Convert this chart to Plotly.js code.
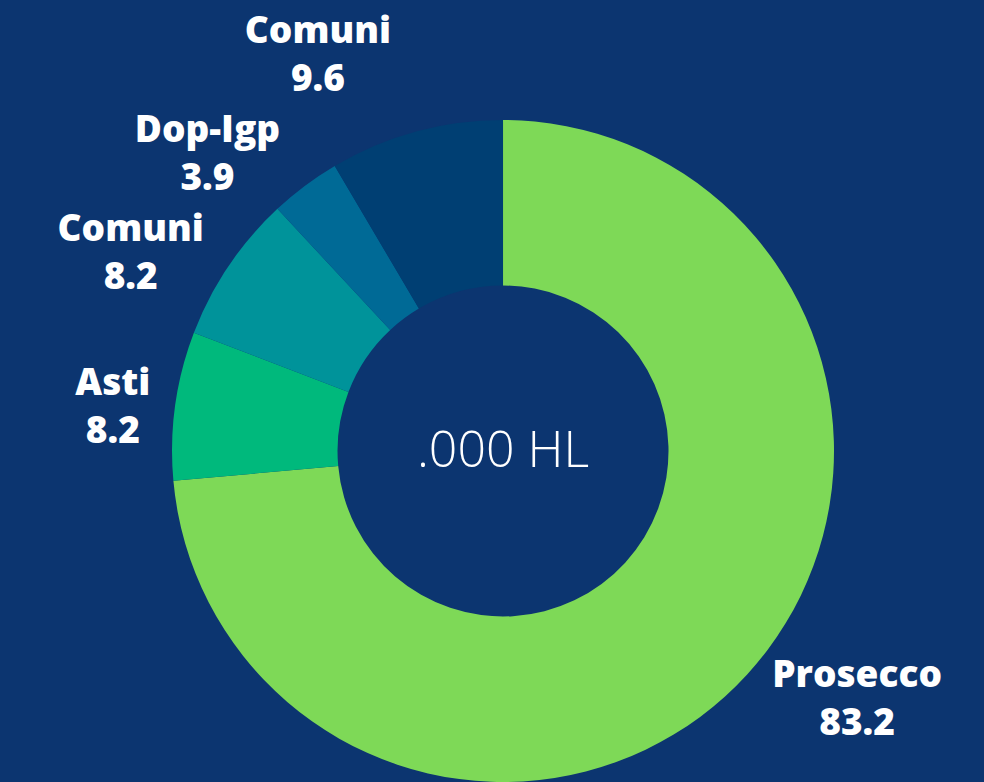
<!DOCTYPE html>
<html>
<head>
<meta charset="utf-8">
<script src="https://cdn.plot.ly/plotly-3.0.1.min.js"></script>
<style>
  html, body { margin: 0; padding: 0; background: #0c3570; }
  #chart { width: 984px; height: 782px; }
  #chart path.textline { display: none; }
</style>
</head>
<body>
<div id="chart"></div>
<script>
// Data
var categories = ['Prosecco', 'Asti', 'Comuni', 'Dop-Igp', 'Comuni'];
var values = [83.2, 8.2, 8.2, 3.9, 9.6];
var sliceColors = ['#7ed957', '#00b97c', '#00939a', '#006a96', '#003f73'];
var centerLabel = '.000 HL';

// unique keys so that the two "Comuni" slices are not merged
var keys = categories.map(function (c, i) { return 'slice' + i; });

var trace = {
  type: 'pie',
  labels: keys,
  values: values,
  text: categories,
  texttemplate: '%{text}<br>%{value}',
  textposition: 'outside',
  textfont: { family: 'Open Sans', size: 37, color: '#ffffff', weight: 800 },
  hole: 0.5,
  sort: false,
  direction: 'clockwise',
  rotation: 0,
  marker: { colors: sliceColors, line: { width: 0 } },
  domain: { x: [0.1748, 0.8476], y: [0, 0.8465] },
  title: {
    text: centerLabel,
    position: 'middle center',
    font: { family: 'Open Sans', size: 50, color: '#ffffff', weight: 300 }
  },
  showlegend: false,
  hoverinfo: 'none'
};

var layout = {
  width: 984,
  height: 782,
  margin: { l: 0, r: 0, t: 0, b: 0 },
  paper_bgcolor: '#0c3570',
  plot_bgcolor: '#0c3570',
  showlegend: false
};

Plotly.newPlot('chart', [trace], layout, { displayModeBar: false, staticPlot: true });
</script>
</body>
</html>
